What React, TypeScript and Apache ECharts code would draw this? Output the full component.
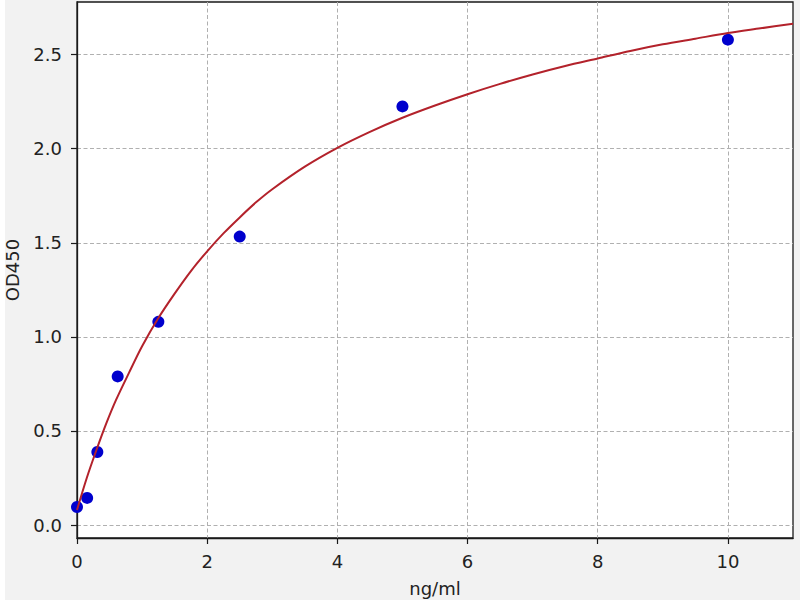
import React, { useEffect, useRef } from "react";
import * as echarts from "echarts";

// Measured standards (concentration ng/ml, OD450)
const stdConc = [0, 0.156, 0.3125, 0.625, 1.25, 2.5, 5, 10];
const stdOD = [0.096, 0.144, 0.388, 0.79, 1.08, 1.533, 2.225, 2.58];

// Fitted curve
const curveX = [0, 0.15, 0.3, 0.45, 0.6, 0.8, 1.0, 1.25, 1.5, 1.75, 2.0, 2.25, 2.5, 2.75, 3.0, 3.5, 4.0, 4.5, 5, 5.5, 6, 6.5, 7, 7.5, 8, 8.5, 9, 9.5, 10, 10.5, 11];
const curveY = [0.08, 0.25, 0.4, 0.54, 0.665, 0.81, 0.95, 1.1, 1.23, 1.35, 1.455, 1.55, 1.635, 1.715, 1.785, 1.905, 2.005, 2.09, 2.165, 2.23, 2.29, 2.345, 2.395, 2.44, 2.48, 2.52, 2.555, 2.585, 2.615, 2.64, 2.665];

const xTicks = [0, 2, 4, 6, 8, 10];
const yTicks = [0, 0.5, 1.0, 1.5, 2.0, 2.5];

const FONT = "DejaVu Sans";

export default function App() {
  const ref = useRef<HTMLDivElement>(null);
  useEffect(() => {
    if (!ref.current) return;
    const chart = echarts.init(ref.current, undefined, { renderer: "svg" });
    const splitLine = {
      show: true,
      lineStyle: { color: "#b0b0b0", type: [4, 2.5], width: 1 },
    };
    chart.setOption({
      animation: false,
      backgroundColor: "#f2f2f2",
      graphic: [
        { type: "rect", left: 0, top: 0, shape: { width: 5, height: 600 }, style: { fill: "#ffffff" }, z: -10 },
      ],
      grid: {
        left: 77,
        right: 7,
        top: 2,
        bottom: 62,
        containLabel: false,
        outerBoundsMode: "none",
        show: true,
        backgroundColor: "#ffffff",
        borderColor: "#1a1a1a",
        borderWidth: 1.3,
      },
      xAxis: {
        type: "value",
        min: 0,
        max: 11,
        interval: 2,
        name: "ng/ml",
        nameLocation: "middle",
        nameGap: 41,
        nameTextStyle: { fontFamily: FONT, fontSize: 18, color: "#222" },
        axisLine: { show: true, onZero: false, lineStyle: { color: "#1a1a1a", width: 1.3 } },
        axisTick: { show: true, length: 6, customValues: xTicks, lineStyle: { color: "#1a1a1a", width: 1.2 } },
        axisLabel: {
          customValues: xTicks,
          fontFamily: FONT,
          fontSize: 18,
          color: "#222",
          margin: 14,
          formatter: (v: number) => String(v),
        },
        splitLine,
      },
      yAxis: {
        type: "value",
        min: -0.069,
        max: 2.78,
        name: "OD450",
        nameLocation: "middle",
        nameGap: 56,
        nameTextStyle: { fontFamily: FONT, fontSize: 18, color: "#222" },
        axisLine: { show: true, onZero: false, lineStyle: { color: "#1a1a1a", width: 1.3 } },
        axisTick: { show: true, length: 6, customValues: yTicks, lineStyle: { color: "#1a1a1a", width: 1.2 } },
        axisLabel: {
          customValues: yTicks,
          fontFamily: FONT,
          fontSize: 18,
          color: "#222",
          margin: 15,
          formatter: (v: number) => v.toFixed(1),
        },
        splitLine,
      },
      series: [
        {
          type: "scatter",
          data: stdConc.map((x, i) => [x, stdOD[i]]),
          symbolSize: 12,
          itemStyle: { color: "#0000cd", opacity: 1 },
          z: 2,
          clip: false,
        },
        {
          type: "line",
          data: curveX.map((x, i) => [x, curveY[i]]),
          smooth: 0.3,
          symbol: "none",
          lineStyle: { color: "#b3222b", width: 2 },
          z: 3,
        },
      ],
    });
    return () => chart.dispose();
  }, []);
  return (
    <div
      ref={ref}
      style={{ position: "absolute", left: 0, top: 0, width: 800, height: 600 }}
    />
  );
}
